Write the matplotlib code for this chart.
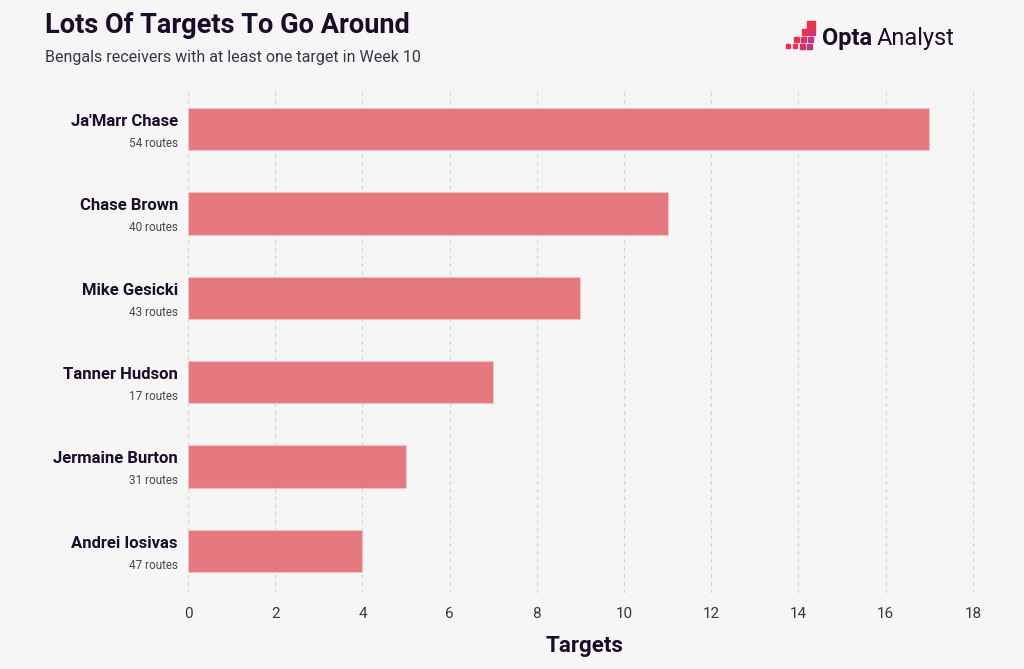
import matplotlib.pyplot as plt
from matplotlib.patches import Rectangle

players = ["Ja'Marr Chase", "Chase Brown", "Mike Gesicki", "Tanner Hudson",
           "Jermaine Burton", "Andrei Iosivas"]
routes = [54, 40, 43, 17, 31, 47]
targets = [17, 11, 9, 7, 5, 4]
xticks = [0, 2, 4, 6, 8, 10, 12, 14, 16, 18]

bg = "#f6f6f6"
dark = "#1b0c29"
bar_col = "#e25a62"

plt.rcParams['font.family'] = ['Roboto', 'DejaVu Sans']

fig = plt.figure(figsize=(10.24, 6.69), dpi=100, facecolor=bg)
ax = fig.add_axes([0.1836, 0.1136, 0.775, 0.7564])
ax.set_facecolor(bg)

ypos = list(range(len(players)))
ax.barh(ypos, targets, height=0.5, color=bar_col, alpha=0.8, zorder=2,
        edgecolor="#f4c4c7", linewidth=0.8)
ax.set_ylim(len(players) - 0.5, -0.5)
ax.set_xlim(0, 18.2)
ax.set_xticks(xticks)
ax.set_xticklabels([str(t) for t in xticks], fontsize=11, color="#3a3344")
ax.tick_params(axis="x", length=0, pad=10)
ax.set_yticks([])
ax.grid(axis="x", linestyle=(0, (3, 4)), color="#d2d2d2", linewidth=0.8, zorder=1)
for s in ax.spines.values():
    s.set_visible(False)
ax.set_xlabel("Targets", fontsize=16, fontweight="bold", color=dark, labelpad=10)

for i, (name, r) in enumerate(zip(players, routes)):
    ax.text(-0.23, i - 0.09, name, ha="right", va="center", fontsize=12,
            fontweight="bold", color=dark, transform=ax.transData)
    ax.text(-0.23, i + 0.17, f"{r} routes", ha="right", va="center", fontsize=8.5,
            color="#4a4552", transform=ax.transData)

fig.text(0.044, 0.962, "Lots Of Targets To Go Around", fontsize=19.5,
         fontweight="bold", color=dark, va="center")
fig.text(0.044, 0.914, "Bengals receivers with at least one target in Week 10",
         fontsize=11.5, color="#3a3344", va="center")

# logo
W, H = 1024, 669
sq = [(786, 44, 4, "#e8334a"), (793, 44, 4, "#e03355"), (800, 44, 5, "#d2346a"),
      (807, 44, 5, "#b83888"), (794, 37, 5, "#e8334a"), (801, 37, 5, "#d9346a"),
      (808, 37, 5, "#c0358a"), (802, 29, 6, "#e8334a"), (809, 29, 6, "#cf347a"),
      (807, 21, 8, "#e8334a")]
for x, y, s, c in sq:
    fig.patches.append(Rectangle((x / W, 1 - (y + s) / H), s / W, s / H,
                                 transform=fig.transFigure, color=c))
fig.text(822 / W, 1 - 38 / H, "Opta", fontsize=17, fontweight="bold",
         color=dark, va="center")
fig.text(877 / W, 1 - 38 / H, "Analyst", fontsize=17, color=dark, va="center")

fig.savefig("out.png", dpi=100, facecolor=bg)
